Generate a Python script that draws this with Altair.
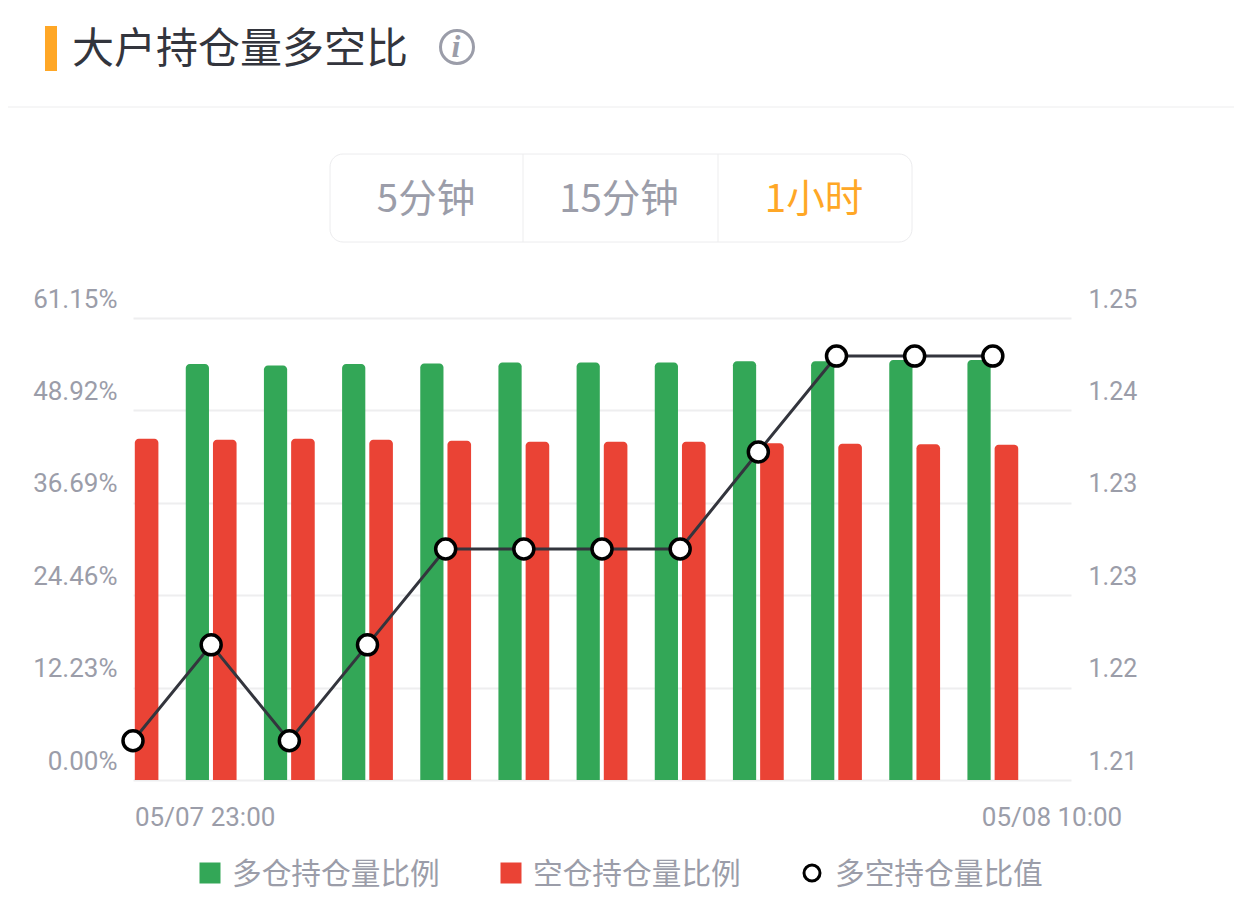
import altair as alt
import pandas as pd

idx = list(range(12))
long_pct = [55.05, 55.05, 54.87, 55.05, 55.12, 55.25, 55.25, 55.25, 55.42, 55.42, 55.6, 55.6]
short_pct = [45.17, 45.04, 45.17, 45.04, 44.91, 44.78, 44.78, 44.78, 44.58, 44.51, 44.44, 44.38]
ratio = [1.2134, 1.2217, 1.2134, 1.2217, 1.23, 1.23, 1.23, 1.23, 1.2384, 1.2467, 1.2467, 1.2467]
left_ticks = [0, 12.23, 24.46, 36.69, 48.92, 61.15]
right_ticks = [1.21, 1.218, 1.226, 1.234, 1.242, 1.25]
title_text = "大户持仓量多空比"
tabs = ["5分钟", "15分钟", "1小时"]
legend_names = ["多仓持仓量比例", "空仓持仓量比例", "多空持仓量比值"]
time_labels = ["05/07 23:00", "05/08 10:00"]

GRAY = "#9b9da9"
GREEN = "#33a757"
RED = "#ea4335"
ORANGE = "#ffa726"
DARK = "#33353d"
LINE = "#ededee"
PX, PY = 133, 318
CJK = "Noto Sans CJK SC"
NUM = "Roboto"

df = pd.DataFrame({"i": idx, "long": long_pct, "short": short_pct, "ratio": ratio})
one = pd.DataFrame({"a": [0]})
X = alt.X("x0:Q", scale=alt.Scale(domain=[0, 12]), axis=None)
Y_L = alt.Scale(domain=[0, 61.15])
Y_R = alt.Scale(domain=[1.21, 1.25])


def vx(v):
    return alt.value(v - PX)


def vy(v):
    return alt.value(v - PY)


def text(s, x, y, size, color, font=CJK, align="center", **kw):
    return alt.Chart(pd.DataFrame({"t": [s]})).mark_text(
        font=font, fontSize=size, color=color, align=align, baseline="middle", **kw
    ).encode(x=vx(x), y=vy(y), text="t:N")


def box(x1, x2, y1, y2, **kw):
    return alt.Chart(one).mark_rect(**kw).encode(x=vx(x1), x2=vx(x2), y=vy(y1), y2=vy(y2))


def hline(x1, x2, y, color=LINE, w=1.5):
    return alt.Chart(one).mark_rule(color=color, strokeWidth=w).encode(x=vx(x1), x2=vx(x2), y=vy(y))


def vline(x, y1, y2):
    return alt.Chart(one).mark_rule(color=LINE, strokeWidth=1).encode(x=vx(x), y=vy(y1), y2=vy(y2))


def dot(x, y, size, **kw):
    return alt.Chart(one).mark_point(size=size, clip=False, **kw).encode(x=vx(x), y=vy(y))


green = alt.Chart(df).transform_calculate(x0="datum.i-0.325", x1="datum.i-0.028", base="0").mark_bar(
    color=GREEN, clip=True, cornerRadiusTopLeft=4, cornerRadiusTopRight=4
).encode(
    x=X, x2="x1:Q",
    y=alt.Y("long:Q", scale=Y_L, axis=alt.Axis(
        values=left_ticks, title=None, domain=False, ticks=False, grid=True, gridColor="#eeeeef",
        gridWidth=2, labelExpr="format(datum.value,'.2f')+'%'", labelFont=NUM, labelFontSize=26,
        labelColor=GRAY, labelPadding=16, labelOffset=-19, labelOverlap=False, labelBound=False)),
    y2="base:Q",
)
red = alt.Chart(df).transform_calculate(x0="datum.i+0.023", x1="datum.i+0.325", base="0").mark_bar(
    color=RED, clip=True, cornerRadiusTopLeft=4, cornerRadiusTopRight=4
).encode(x=X, x2="x1:Q", y=alt.Y("short:Q", scale=Y_L, axis=None), y2="base:Q")
line = alt.Chart(df).transform_calculate(x0="datum.i").mark_line(color=DARK, strokeWidth=3, clip=False).encode(
    x=X,
    y=alt.Y("ratio:Q", scale=Y_R, axis=alt.Axis(
        orient="right", values=right_ticks, format=".2f", title=None, domain=False, ticks=False, grid=False,
        labelFont=NUM, labelFontSize=25, labelColor=GRAY, labelPadding=17, labelOffset=-19,
        labelOverlap=False, labelBound=False)),
)
points = alt.Chart(df).transform_calculate(x0="datum.i").mark_point(
    filled=True, fill="white", stroke="black", strokeWidth=3.5, size=400, opacity=1, clip=False
).encode(x=X, y=alt.Y("ratio:Q", scale=Y_R, axis=None))

decor = [
    box(45, 57, 26, 71, color=ORANGE),
    text(title_text, 72, 50, 42, DARK, align="left", fontWeight=400),
    dot(457, 47, 1089, shape="circle", stroke=GRAY, strokeWidth=3, filled=False, opacity=1),
    text("i", 456, 47, 32, GRAY, font="Liberation Serif", fontStyle="italic", fontWeight="bold"),
    hline(0, 1242, 107, w=1),
    box(330, 912, 154, 242, fill="white", stroke="#ececee", strokeWidth=1, cornerRadius=13),
    vline(523, 154, 242),
    vline(718, 154, 242),
    text(tabs[0], 426, 200, 38.5, GRAY),
    text(tabs[1], 619, 200, 38.5, GRAY),
    text(tabs[2], 814, 200, 38.5, ORANGE),
    text(time_labels[0], 135, 818, 26, GRAY, font=NUM, align="left"),
    text(time_labels[1], 1052, 818, 26, GRAY, font=NUM),
    dot(210, 873, 441, shape="square", filled=True, color=GREEN, opacity=1),
    text(legend_names[0], 232, 875, 29.7, GRAY, align="left"),
    dot(511, 873, 441, shape="square", filled=True, color=RED, opacity=1),
    text(legend_names[1], 533, 875, 29.7, GRAY, align="left"),
    dot(812, 873, 256, shape="circle", filled=True, fill="white", stroke="black", strokeWidth=3, opacity=1),
    text(legend_names[2], 835, 875, 29.7, GRAY, align="left"),
]

chart = alt.layer(green, red, line, points, *decor).resolve_scale(y="independent").properties(
    width=938, height=462, background="white",
    padding={"left": 125, "top": 310, "right": 163, "bottom": 124},
    autosize=alt.AutoSizeParams(type="none"),
).configure_view(stroke=None)

chart.save("out.html", embed_options={"renderer": "svg", "actions": False})
